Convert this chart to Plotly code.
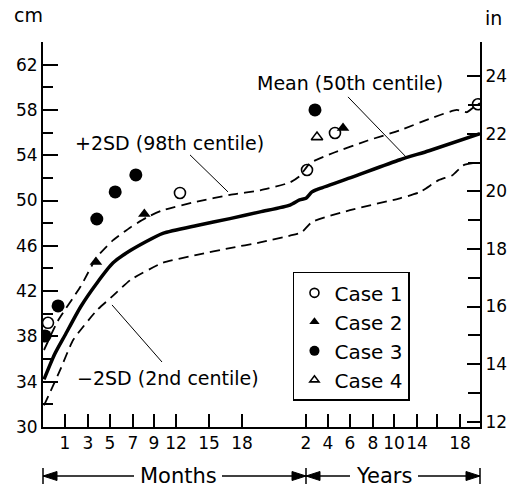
import numpy as np
import plotly.graph_objects as go

# ---- axis scale (age in months -> position along the horizontal axis) ----
AXIS_AGE = [0, 1, 3, 5, 7, 9, 12, 15, 18, 24, 48, 72, 96, 120, 168, 192, 216, 240]
AXIS_POS = [1, 22, 45, 67, 90, 111, 133, 166, 199, 263, 285, 307, 330, 351, 374, 394, 417, 437]
X_MAX = 437

TICK_AGES = [1, 3, 5, 7, 9, 12, 15, 18, 24, 48, 72, 96, 120, 168, 192, 216]
TICK_TEXT = ["1", "3", "5", "7", "9", "12", "15", "18", "2", "4", "6", "8", "10", "14", "", "18"]

# ---- centile curves (age in months, head circumference in cm) ----
MEAN_AGE = [0, 0.5, 1, 2.35, 3.8, 5.27, 6.8, 10.2, 13.9, 16.9, 19.7, 22.5, 23.4, 24, 30.5, 37, 72, 132.5, 182.5, 240]
MEAN_CM = [34.2, 36.4, 38.1, 40.6, 42.7, 44.5, 45.6, 47.1, 47.8, 48.4, 49.0, 49.6, 50.05, 50.2, 50.76, 51.0, 52.0, 53.6, 54.4, 55.9]

UP_AGE = [0, 0.67, 2.35, 3.8, 5.27, 6.8, 8.3, 10.2, 13.9, 16.9, 19.7, 22.5, 23.4, 28.4, 53.5, 90.5, 132.5, 186, 212.6, 224, 231.6, 240]
UP_CM = [36.8, 39.4, 42.4, 45.0, 46.5, 47.65, 48.5, 49.15, 49.9, 50.5, 50.9, 51.6, 52.15, 53.3, 54.2, 55.3, 56.2, 57.3, 58.0, 57.8, 58.2, 58.6]

LO_AGE = [0, 0.76, 1.72, 3.8, 5.27, 6.8, 10.2, 13.9, 16.9, 19.7, 22.5, 23.6, 30.5, 72, 132.5, 171.3, 193.7, 208.2, 219.6, 231.6, 240]
LO_CM = [31.9, 35.0, 37.7, 40.3, 41.6, 43.0, 44.5, 45.2, 45.8, 46.3, 46.9, 47.2, 48.1, 49.15, 50.2, 50.74, 51.8, 52.24, 53.1, 53.3, 53.3]

# ---- cases ----
CASE1_AGE = [0.19, 12.36, 25.1, 55.6, 237.6]
CASE1_CM = [39.2, 50.67, 52.7, 55.97, 58.5]
CASE2_AGE = [3.72, 8.08, 64.4]
CASE2_CM = [44.58, 48.82, 56.41]
CASE3_AGE = [0.05, 0.67, 3.8, 5.45, 7.27, 33.8]
CASE3_CM = [38.04, 40.69, 48.37, 50.76, 52.26, 58.0]
CASE4_AGE = [36]
CASE4_CM = [55.6]


def pos(ages):
    return np.interp(ages, AXIS_AGE, AXIS_POS)


FONT = "DejaVu Sans"
fig = go.Figure()

dash_line = dict(color="black", width=1.8, dash="10px,6px", shape="spline", smoothing=0.5)
fig.add_trace(go.Scatter(x=pos(UP_AGE), y=UP_CM, mode="lines", line=dash_line, showlegend=False, hoverinfo="skip"))
fig.add_trace(go.Scatter(x=pos(LO_AGE), y=LO_CM, mode="lines", line=dash_line, showlegend=False, hoverinfo="skip"))
fig.add_trace(go.Scatter(x=pos(MEAN_AGE), y=MEAN_CM, mode="lines",
                         line=dict(color="black", width=3.5, shape="spline", smoothing=0.6),
                         showlegend=False, hoverinfo="skip"))

cases = [
    ("Case 1", CASE1_AGE, CASE1_CM, dict(symbol="circle-open", size=11, color="black", line=dict(width=1.6, color="black")), 9),
    ("Case 2", CASE2_AGE, CASE2_CM, dict(symbol="triangle-up", size=11, color="black"), 9),
    ("Case 3", CASE3_AGE, CASE3_CM, dict(symbol="circle", size=13, color="black"), 10),
    ("Case 4", CASE4_AGE, CASE4_CM, dict(symbol="triangle-up-open", size=10, color="black", line=dict(width=1.6, color="black")), 8),
]
for name, a, c, mk, lsize in cases:
    fig.add_trace(go.Scatter(x=pos(a), y=c, mode="markers", marker=mk, showlegend=False, legendgroup=name))
for name, a, c, mk, lsize in cases:
    m2 = dict(mk)
    m2["size"] = lsize
    fig.add_trace(go.Scatter(x=[None], y=[None], mode="markers", marker=m2, name=name, legendgroup=name))

# invisible trace to carry the inch axis
fig.add_trace(go.Scatter(x=[0], y=[12], yaxis="y2", mode="markers", marker=dict(opacity=0), showlegend=False, hoverinfo="skip"))

fig.update_layout(
    width=513, height=487,
    margin=dict(l=43, r=33, t=42, b=60, autoexpand=False),
    plot_bgcolor="white", paper_bgcolor="white",
    font=dict(family=FONT, color="black"),
    showlegend=True,
    legend=dict(x=0.572, y=0.403, xanchor="left", yanchor="top", bgcolor="white",
                bordercolor="black", borderwidth=1.5, font=dict(size=20, family=FONT),
                itemwidth=30, tracegroupgap=0),
    xaxis=dict(range=[0, X_MAX], tickmode="array", tickvals=pos(TICK_AGES), ticktext=TICK_TEXT,
               ticks="inside", ticklen=13, tickwidth=1.5, tickcolor="black", tickangle=0, automargin=False,
               showline=True, linewidth=2, linecolor="black", showgrid=False, zeroline=False,
               tickfont=dict(size=17, family=FONT)),
    yaxis=dict(range=[30, 64], tickmode="array", tickvals=list(range(30, 63, 4)), automargin=False,
               ticks="inside", ticklen=15, tickwidth=1.5, tickcolor="black",
               minor=dict(tickmode="array", tickvals=list(range(32, 61, 4)), ticks="inside", ticklen=10,
                          tickwidth=1.5, tickcolor="black", showgrid=False),
               showline=True, linewidth=2, linecolor="black", showgrid=False, zeroline=False,
               tickfont=dict(size=17, family=FONT)),
    yaxis2=dict(range=[30 / 2.54, 64 / 2.54], overlaying="y", side="right", tickmode="array", automargin=False,
                tickvals=list(range(12, 25, 2)), ticks="inside", ticklen=13, tickwidth=1.5, tickcolor="black",
                minor=dict(tickmode="array", tickvals=list(range(13, 24, 2)), ticks="inside", ticklen=12,
                           tickwidth=1.5, tickcolor="black", showgrid=False),
                showline=True, linewidth=2, linecolor="black", showgrid=False, zeroline=False,
                tickfont=dict(size=17, family=FONT)),
)

C = dict(showarrow=False, xanchor="center", yanchor="middle")
ann = [
    dict(text="cm", x=-0.034, y=1.07, xref="paper", yref="paper", font=dict(size=19), **C),
    dict(text="in", x=1.032, y=1.062, xref="paper", yref="paper", font=dict(size=19), **C),
    dict(text="+2SD (98th centile)", x=30, y=55.1, xref="x", yref="y", xanchor="left", yanchor="middle",
         showarrow=False, font=dict(size=19)),
    dict(text="\u22122SD (2nd centile)", x=32, y=34.33, xref="x", yref="y", xanchor="left", yanchor="middle",
         showarrow=False, font=dict(size=19)),
    dict(text="Mean (50th centile)", x=402, y=60.4, xref="x", yref="y", xanchor="right", yanchor="middle",
         showarrow=False, font=dict(size=19)),
]

shapes = []
for (x0, y0, x1, y1) in [(147, 54.03, 185, 50.76), (69, 40.78, 119, 35.74), (305, 59.15, 364, 53.76)]:
    shapes.append(dict(type="line", x0=x0, y0=y0, x1=x1, y1=y1, xref="x", yref="y", line=dict(color="black", width=1)))

# bottom "Months" / "Years" span arrows (paper coordinates)
yA = -49 / 385.0
bar = 8 / 385.0
ah = 4.5 / 385.0
alen = 14


def px(p):
    return p / X_MAX


def arrow_head(tip, direction):
    base = tip + direction * alen
    return dict(type="path", xref="paper", yref="paper", fillcolor="black", line=dict(color="black", width=1),
                path=f"M {px(tip)},{yA} L {px(base)},{yA + ah} L {px(base)},{yA - ah} Z")


p2 = float(pos(24))
segments = [("Months", 0, p2, 135, 91, 179), ("Years", p2, X_MAX, 341, 307, 375)]
for label, a, b, mid, l_end, r_start in segments:
    shapes.append(dict(type="line", xref="paper", yref="paper", x0=px(a), x1=px(l_end), y0=yA, y1=yA, line=dict(color="black", width=1.5)))
    shapes.append(dict(type="line", xref="paper", yref="paper", x0=px(r_start), x1=px(b), y0=yA, y1=yA, line=dict(color="black", width=1.5)))
    shapes.append(arrow_head(a, 1))
    shapes.append(arrow_head(b, -1))
    ann.append(dict(text=label, x=px(mid), y=yA, xref="paper", yref="paper", font=dict(size=21), **C))
for p in [0, p2, X_MAX]:
    shapes.append(dict(type="line", xref="paper", yref="paper", x0=px(p), x1=px(p), y0=yA - bar, y1=yA + bar, line=dict(color="black", width=1.5)))

fig.update_layout(annotations=ann, shapes=shapes)
fig.write_html("out.html", config={"displayModeBar": False},
               post_script="document.body.style.margin='0px';")
